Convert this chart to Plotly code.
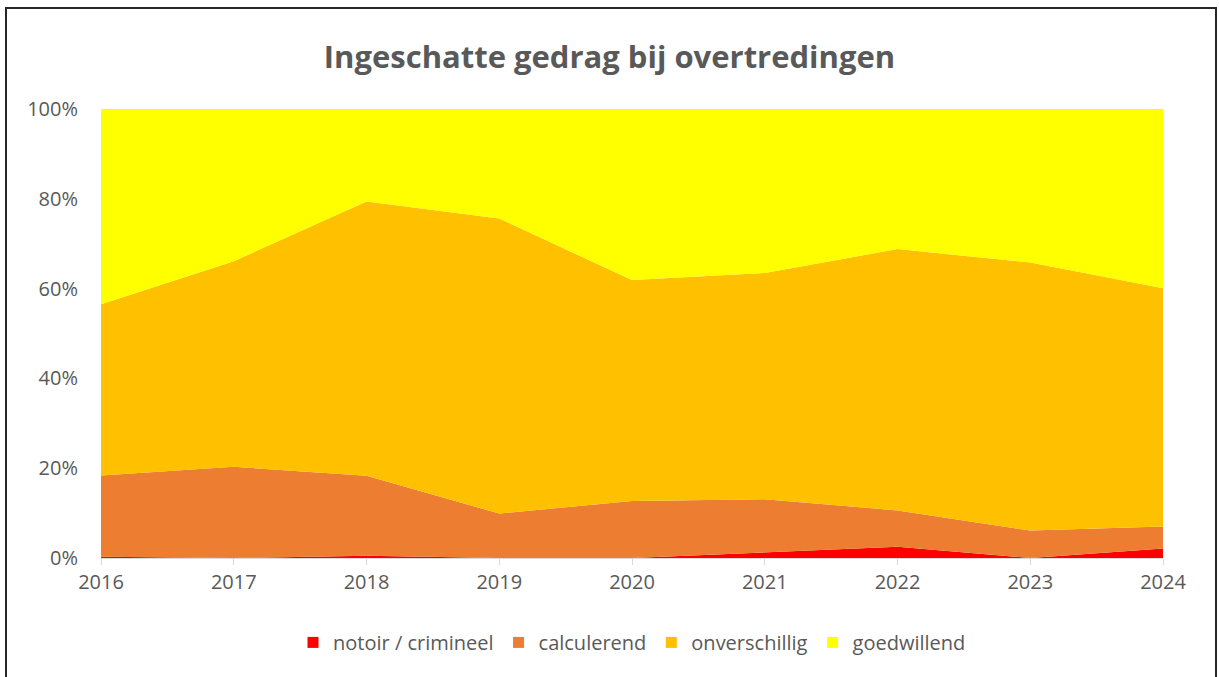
import plotly.graph_objects as go

years = [2016, 2017, 2018, 2019, 2020, 2021, 2022, 2023, 2024]
notoir = [0.3, 0.0, 0.5, 0.0, 0.0, 1.2, 2.5, 0.0, 2.1]
calculerend = [18.1, 20.3, 17.8, 9.9, 12.7, 11.9, 8.1, 6.1, 4.9]
onverschillig = [38.1, 45.8, 61.1, 65.7, 49.2, 50.4, 58.2, 59.7, 53.1]
goedwillend = [43.5, 33.9, 20.6, 24.4, 38.1, 36.5, 31.2, 34.2, 39.9]

series = [
    ("notoir / crimineel", notoir, "#FF0000"),
    ("calculerend", calculerend, "#ED7D31"),
    ("onverschillig", onverschillig, "#FFC000"),
    ("goedwillend", goedwillend, "#FFFF00"),
]

fig = go.Figure()
for name, vals, col in series:
    fig.add_trace(go.Scatter(
        x=years, y=vals, name=name, mode="lines", stackgroup="one",
        groupnorm="percent", line=dict(width=0, color=col), fillcolor=col,
        showlegend=False,
    ))
for name, vals, col in series:
    fig.add_trace(go.Scatter(
        x=[None], y=[None], name=name, mode="markers",
        marker=dict(symbol="square", size=11, color=col), showlegend=True,
    ))

W, H = 1219, 677
L, R, T, B = 101, 56, 109, 118.5
pw, ph = W - L - R, H - T - B

def px(x):
    return (x - L) / pw

def py(y):
    return (H - B - y) / ph

gray = "#595959"
fig.update_layout(
    width=W, height=H,
    margin=dict(l=L, r=R, t=T, b=B),
    paper_bgcolor="white", plot_bgcolor="white",
    font=dict(family="Open Sans", color=gray, size=20),
    title=dict(text="<b>Ingeschatte gedrag bij overtredingen</b>",
               x=0.5, xanchor="center", y=1 - 57 / H, yanchor="middle",
               font=dict(family="Open Sans", size=31, color=gray)),
    showlegend=True,
    legend=dict(orientation="h", x=0.5, xanchor="center", y=py(643), yanchor="middle",
                font=dict(size=20, color=gray), traceorder="normal"),
    xaxis=dict(range=[2016, 2024], tickmode="array", tickvals=years,
               ticktext=[str(y) for y in years], showgrid=False,
               showline=True, linecolor="#D9D9D9", linewidth=1,
               ticks="outside", ticklen=6, tickcolor="#D9D9D9", zeroline=False,
               tickfont=dict(size=20, color=gray)),
    yaxis=dict(range=[0, 100], dtick=20, ticksuffix="%", showgrid=False,
               zeroline=False, showline=False, ticks="", ticklabelstandoff=22,
               tickfont=dict(size=20, color=gray)),
    shapes=[dict(type="rect", xref="paper", yref="paper",
                 x0=px(6), x1=px(1216), y0=py(685), y1=py(8),
                 line=dict(color="#262626", width=2), layer="below")],
)

fig.write_html("out.html", config={"displayModeBar": False},
               post_script="document.body.style.margin='0px';")
